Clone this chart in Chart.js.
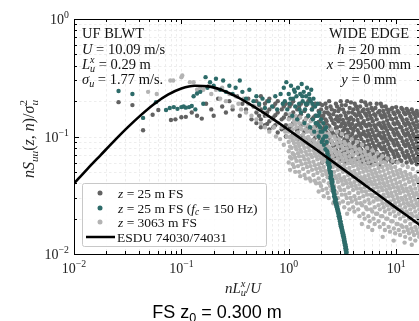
<!DOCTYPE html>
<html><head><meta charset="utf-8">
<script src="https://cdn.jsdelivr.net/npm/chart.js@4/dist/chart.umd.min.js"></script>
<style>
html,body{margin:0;padding:0;overflow:hidden;background:#fff;width:419px;height:321px}
#wrap{position:absolute;left:0;top:0;width:440px;height:321px}
</style></head><body><div id="wrap"><canvas id="c" width="440" height="321"></canvas></div>
<script>
// ---------- DATA ----------
const esduX = [0.01,0.0133,0.0178,0.0237,0.0316,0.0422,0.0562,0.075,0.1,0.133,0.178,0.237,0.316,0.422,0.562,0.75,1,1.33,1.78,2.37,3.16,4.22,5.62,7.5,10,13.3,17.8];
const esduY = [0.0398,0.0528,0.0698,0.0918,0.1195,0.1528,0.1901,0.2269,0.2561,0.2705,0.2671,0.2489,0.2218,0.1917,0.1626,0.1364,0.1136,0.0942,0.0780,0.0645,0.0533,0.0440,0.0363,0.0300,0.0247,0.0205,0.0169];

// z = 25 m FS (dark grey): sparse points + dense columns [x, [y...]]
const darkSparse = [[0.026,0.196],[0.035,0.185],[0.044,0.113],[0.054,0.153],[0.061,0.168],[0.08,0.138],[0.088,0.14],[0.1,0.146],[0.11,0.147],[0.125,0.16],[0.14,0.15],[0.155,0.142],[0.17,0.19],[0.19,0.17],[0.2,0.15],[0.22,0.21],[0.24,0.18],[0.26,0.16],[0.28,0.2],[0.3,0.17],[0.33,0.22],[0.35,0.15],[0.37,0.19],[0.4,0.17],[0.42,0.21],[0.45,0.14],[0.47,0.18]];
const darkCols = [
 [0.5,[0.2,0.16,0.13]],[0.55,[0.22,0.17,0.14,0.12]],[0.6,[0.19,0.15,0.125]],[0.66,[0.21,0.17,0.135,0.115]],
 [0.72,[0.18,0.145,0.12]],[0.79,[0.2,0.16,0.13,0.108]],[0.86,[0.17,0.14,0.115]],[0.94,[0.19,0.155,0.125,0.1]],
 [1.02,[0.18,0.145,0.118]],[1.1,[0.2,0.16,0.13,0.105]],[1.2,[0.17,0.14,0.112,0.095]],[1.3,[0.19,0.155,0.125,0.1]],
 [1.4,[0.165,0.135,0.11,0.09]],[1.52,[0.2,0.15,0.12,0.097]],[1.64,[0.17,0.14,0.113,0.09]],[1.77,[0.19,0.15,0.122,0.098,0.08]],
 [1.9,[0.165,0.133,0.108,0.088]],
 [2.0,[0.17,0.13,0.1,0.085,0.072]],[2.1,[0.15,0.12,0.095,0.078]],[2.2,[0.19,0.14,0.11,0.088,0.066]],[2.3,[0.16,0.125,0.1,0.08]],
 [2.45,[0.18,0.145,0.115,0.092,0.07]],[2.6,[0.155,0.13,0.105,0.083,0.064]],[2.75,[0.19,0.14,0.118,0.097,0.077]],[2.9,[0.165,0.135,0.11,0.088,0.068]],
 [3.05,[0.2,0.15,0.122,0.1,0.08,0.062]],[3.2,[0.17,0.138,0.112,0.09,0.072]],[3.4,[0.185,0.15,0.125,0.103,0.084,0.066]],[3.6,[0.16,0.132,0.108,0.088,0.07]],
 [3.8,[0.195,0.145,0.118,0.097,0.078,0.06]],[4.0,[0.17,0.138,0.112,0.09,0.073]],[4.25,[0.18,0.15,0.125,0.1,0.082,0.064]],[4.5,[0.16,0.13,0.107,0.087,0.07]],
 [4.75,[0.2,0.145,0.118,0.095,0.077,0.06]],[5.0,[0.17,0.135,0.11,0.09,0.072]],[5.3,[0.185,0.15,0.122,0.1,0.08,0.063]],[5.6,[0.16,0.128,0.105,0.085,0.068]],
 [5.9,[0.175,0.142,0.115,0.094,0.076,0.058]],[6.25,[0.155,0.125,0.102,0.083,0.066]],[6.6,[0.19,0.14,0.113,0.092,0.074]],[7.0,[0.165,0.13,0.107,0.087,0.07,0.057]],
 [7.4,[0.18,0.145,0.118,0.096,0.078]],[7.8,[0.155,0.125,0.101,0.082,0.065]],[8.25,[0.17,0.137,0.112,0.091,0.073]],[8.7,[0.15,0.122,0.099,0.08,0.064]],
 [9.2,[0.175,0.14,0.115,0.093,0.075,0.06]],[9.7,[0.155,0.127,0.103,0.084,0.067]],[10.3,[0.165,0.133,0.108,0.088,0.071]],[10.9,[0.15,0.12,0.098,0.079,0.063]],
 [11.5,[0.17,0.138,0.112,0.091,0.073]],[12.2,[0.155,0.125,0.102,0.083,0.066]],[12.9,[0.165,0.132,0.107,0.087,0.07]],[13.6,[0.148,0.12,0.097,0.079,0.063]],
 [14.4,[0.16,0.13,0.105,0.086,0.069]],[15.2,[0.145,0.117,0.095,0.077,0.062]],[16.0,[0.155,0.125,0.101,0.082,0.066]]
];
const darkCols2 = [
 [0.53,[0.185,0.15]],[0.63,[0.2,0.16,0.128]],[0.75,[0.19,0.152,0.125]],[0.9,[0.18,0.145,0.118]],[1.06,[0.19,0.152,0.124,0.1]],
 [1.25,[0.18,0.148,0.118]],[1.46,[0.185,0.143,0.115,0.093]],[1.7,[0.18,0.145,0.118,0.094]],[1.95,[0.19,0.152,0.12,0.095,0.078]],
 [2.05,[0.185,0.145,0.115,0.092,0.075,0.06]],[2.15,[0.16,0.128,0.104,0.083,0.068]],[2.25,[0.175,0.135,0.108,0.087,0.07]],
 [2.38,[0.2,0.155,0.122,0.098,0.078,0.063]],[2.52,[0.17,0.138,0.11,0.089,0.072]],[2.68,[0.165,0.128,0.103,0.085,0.068,0.058]],
 [2.82,[0.18,0.148,0.12,0.094,0.074]],[2.97,[0.172,0.14,0.105,0.084,0.071]],[3.12,[0.185,0.128,0.106,0.086,0.068]],
 [3.3,[0.16,0.13,0.118,0.095,0.077,0.061]],[3.5,[0.2,0.142,0.114,0.093,0.076,0.06]],[3.7,[0.175,0.14,0.125,0.1,0.082,0.065]],
 [3.9,[0.16,0.128,0.105,0.085,0.067]],[4.12,[0.19,0.155,0.12,0.097,0.078,0.061]],[4.37,[0.17,0.138,0.113,0.092,0.074]],
 [4.62,[0.18,0.152,0.124,0.101,0.082,0.065]],[4.87,[0.165,0.13,0.105,0.085,0.068]],[5.15,[0.195,0.157,0.126,0.103,0.083,0.066]],
 [5.45,[0.17,0.14,0.112,0.092,0.074,0.059]],[5.75,[0.19,0.15,0.124,0.1,0.08,0.064]],[6.07,[0.168,0.135,0.109,0.088,0.071]],
 [6.42,[0.175,0.15,0.12,0.097,0.079,0.062]],[6.8,[0.16,0.127,0.103,0.084,0.067]],[7.2,[0.19,0.152,0.123,0.1,0.081,0.063]],
 [7.6,[0.165,0.132,0.108,0.089,0.071]],[8.0,[0.18,0.147,0.118,0.095,0.077,0.061]],[8.47,[0.16,0.128,0.105,0.086,0.069]],
 [8.95,[0.17,0.142,0.117,0.095,0.077,0.062]],[9.45,[0.16,0.13,0.108,0.088,0.071]],[10.0,[0.178,0.143,0.116,0.094,0.076,0.061]],
 [10.6,[0.16,0.128,0.103,0.084,0.068]],[11.2,[0.175,0.145,0.12,0.097,0.078,0.062]],[11.85,[0.16,0.13,0.106,0.086,0.069]],
 [12.55,[0.172,0.14,0.115,0.093,0.075,0.06]],[13.25,[0.157,0.127,0.102,0.083,0.067]],[14.0,[0.17,0.14,0.113,0.092,0.074,0.06]],
 [14.8,[0.155,0.125,0.1,0.081,0.065]],[15.6,[0.165,0.135,0.11,0.089,0.072,0.058]],[16.4,[0.15,0.12,0.097,0.078,0.063]]
];

// z = 25 m FS (fc = 150 Hz) (teal)
const tealPts = [[0.026,0.244],[0.035,0.23],[0.044,0.144],[0.058,0.196],[0.072,0.168],[0.078,0.175],[0.085,0.178],[0.092,0.172],[0.1,0.178],[0.105,0.18],[0.11,0.176],[0.118,0.178],[0.125,0.182],[0.13,0.22],[0.14,0.232],[0.135,0.17],[0.15,0.24],[0.16,0.19],[0.168,0.32],[0.175,0.26],[0.185,0.29],[0.2,0.27],[0.21,0.31],[0.23,0.25],[0.245,0.3],[0.26,0.24],[0.28,0.27],[0.3,0.23],[0.32,0.26],[0.35,0.3],[0.37,0.24],[0.4,0.21],[0.43,0.25],[0.47,0.2],[0.5,0.22],[0.53,0.19],[0.57,0.21],[0.6,0.175],[0.65,0.2],[0.7,0.18],[0.75,0.22],[0.78,0.17],
 [0.9,0.26],[0.92,0.2],[0.95,0.29],[0.97,0.17],[1.0,0.23],[1.02,0.19],[1.05,0.27],[1.08,0.15],[1.1,0.21],[1.12,0.25],[1.15,0.18],[1.18,0.22],[1.2,0.14],[1.22,0.26],[1.25,0.19],[1.28,0.23],[1.3,0.16],[1.32,0.28],[1.35,0.2],[1.38,0.24],[1.4,0.13],[1.42,0.17],[1.45,0.22],[1.48,0.26],[1.5,0.19],[1.52,0.15],[1.55,0.23],[1.58,0.12],[1.6,0.2],[1.62,0.25],[1.65,0.17],[1.68,0.14],[1.7,0.21],[1.73,0.11],[1.76,0.18],[1.8,0.15],[1.83,0.13],[1.86,0.19],[1.9,0.1],[1.93,0.16],[1.96,0.12],[2.0,0.14],[2.03,0.09],[2.06,0.11],[2.1,0.13],[2.13,0.085],[2.16,0.1],[2.2,0.078],[2.23,0.12],[2.26,0.09],[2.3,0.072],
 [1.04,0.21],[1.14,0.24],[1.26,0.17],[1.34,0.22],[1.44,0.19],[1.56,0.21],[1.66,0.19],[1.78,0.13],[1.88,0.15],[1.98,0.11],[2.08,0.095],[2.18,0.115],[0.84,0.23],[0.88,0.19],[1.9,0.125],[2.24,0.1],
 [2.3,0.068],[2.33,0.064],[2.31,0.06],[2.36,0.057],[2.38,0.054],[2.4,0.051],[2.43,0.049],[2.46,0.046],[2.45,0.044],[2.5,0.042],[2.52,0.04],[2.55,0.038],[2.58,0.036],[2.6,0.034],[2.63,0.033],[2.65,0.031],[2.68,0.03],[2.7,0.028],[2.74,0.027],[2.77,0.026],[2.8,0.025],[2.83,0.024],[2.86,0.023],[2.9,0.022],[2.92,0.021],[2.96,0.02],[3.0,0.019],[3.02,0.018],[3.06,0.0172],[3.1,0.0165],[3.13,0.0158],[3.17,0.015],[3.2,0.0143],[3.24,0.0137],[3.27,0.013],[3.3,0.0124],[3.34,0.0118],[3.37,0.0112],[3.4,0.0107],[3.43,0.0102],
 [2.28,0.075],[2.35,0.066],[2.39,0.059],[2.42,0.055],[2.47,0.05],[2.49,0.047],[2.53,0.043],[2.56,0.041],[2.6,0.037],[2.64,0.035],[2.67,0.032],[2.72,0.03],[2.75,0.029],[2.78,0.027],[2.82,0.0255],[2.85,0.0245],[2.89,0.0232],[2.93,0.0222],[2.97,0.021],[3.0,0.02],[3.05,0.0188],[3.08,0.0178],[3.12,0.017],[3.16,0.016],[3.19,0.0153],[3.23,0.0147],[3.27,0.014],[3.3,0.0134],[3.33,0.0127],[3.37,0.0121],[3.41,0.0115],[3.44,0.011],[3.46,0.0104]];

// z = 3063 m FS (light grey)
const lightSparse = [[0.049,0.24],[0.059,0.23],[0.079,0.3],[0.084,0.3],[0.1,0.32],[0.102,0.33],[0.12,0.29],[0.13,0.29],[0.14,0.25],[0.15,0.26],[0.16,0.25],[0.18,0.27],[0.19,0.23],[0.21,0.25],[0.23,0.21],[0.24,0.26],[0.26,0.2],[0.28,0.23],[0.3,0.18],[0.32,0.22],[0.34,0.19],[0.36,0.17],[0.38,0.21],[0.4,0.16],[0.42,0.19],[0.45,0.15],[0.48,0.18],[0.5,0.14],[0.52,0.17],[0.55,0.13],[0.58,0.16],[0.6,0.12],[0.63,0.15],[0.66,0.11],[0.7,0.14],[0.73,0.12],[0.76,0.1],[0.8,0.13],[0.83,0.095],[0.86,0.12],[0.9,0.085],[0.93,0.11],[0.96,0.1],
 [3.5,0.022],[4.8,0.018],[6,0.016],[7.5,0.014],[9.5,0.013],[12,0.0125],[14,0.012],[2.6,0.027],[5.5,0.017]];
const lightCols = [
 [1.0,[0.14,0.11,0.09,0.075,0.06]],[1.06,[0.125,0.1,0.08,0.065]],[1.12,[0.135,0.105,0.088,0.07,0.055]],[1.18,[0.12,0.095,0.078,0.062]],
 [1.25,[0.13,0.1,0.083,0.068,0.05]],[1.32,[0.115,0.09,0.074,0.058]],[1.4,[0.125,0.097,0.08,0.064,0.047]],[1.48,[0.11,0.087,0.07,0.055]],
 [1.56,[0.12,0.093,0.076,0.06,0.044]],[1.65,[0.105,0.083,0.067,0.052]],[1.75,[0.115,0.088,0.072,0.057,0.042]],[1.85,[0.1,0.08,0.064,0.049]],
 [1.95,[0.11,0.085,0.069,0.054,0.04]],[2.06,[0.095,0.076,0.061,0.047,0.035]],[2.18,[0.105,0.081,0.065,0.051]],[2.3,[0.09,0.072,0.058,0.045,0.033]],
 [2.43,[0.1,0.078,0.062,0.049,0.038]],[2.57,[0.086,0.068,0.055,0.043]],[2.72,[0.095,0.074,0.059,0.046,0.034]],[2.87,[0.082,0.065,0.052,0.041,0.03]],
 [3.03,[0.09,0.07,0.056,0.044,0.035]],[3.2,[0.078,0.062,0.05,0.039,0.028]],[3.38,[0.086,0.067,0.053,0.042,0.032]],[3.57,[0.074,0.059,0.047,0.037,0.027]],
 [3.77,[0.082,0.063,0.05,0.04,0.03]],[3.98,[0.07,0.056,0.045,0.035,0.025]],[4.2,[0.078,0.06,0.048,0.038,0.029]],[4.44,[0.066,0.053,0.042,0.033,0.024]],
 [4.69,[0.074,0.057,0.045,0.036,0.027]],[4.95,[0.063,0.05,0.04,0.031,0.022]],[5.23,[0.07,0.054,0.043,0.034,0.025]],[5.52,[0.06,0.047,0.038,0.029,0.021]],
 [5.83,[0.066,0.051,0.041,0.032,0.024]],[6.16,[0.057,0.045,0.036,0.028,0.02]],[6.5,[0.063,0.049,0.039,0.03,0.022]],[6.87,[0.054,0.043,0.034,0.026,0.019]],
 [7.25,[0.06,0.046,0.037,0.029,0.021]],[7.66,[0.051,0.04,0.032,0.025,0.018]],[8.09,[0.057,0.044,0.035,0.027,0.02]],[8.54,[0.049,0.038,0.031,0.024,0.017]],
 [9.02,[0.054,0.042,0.033,0.026,0.019]],[9.53,[0.047,0.037,0.029,0.023,0.0165]],[10.1,[0.051,0.04,0.032,0.025,0.018]],[10.6,[0.045,0.035,0.028,0.022,0.016]],
 [11.2,[0.049,0.038,0.03,0.024,0.0175]],[11.8,[0.043,0.034,0.027,0.021,0.0155]],[12.5,[0.047,0.036,0.029,0.023,0.017]],[13.2,[0.041,0.032,0.026,0.02,0.015]],
 [13.9,[0.045,0.035,0.028,0.022,0.0165]],[14.7,[0.039,0.031,0.025,0.019,0.0145]],[15.5,[0.043,0.033,0.027,0.021,0.016]],[16.4,[0.038,0.03,0.024,0.019,0.014]]
];
const lightCols2 = [
 [1.03,[0.155,0.125,0.098,0.082,0.067,0.052]],[1.09,[0.145,0.115,0.093,0.072,0.058]],[1.15,[0.15,0.128,0.1,0.082,0.066,0.05]],
 [1.22,[0.138,0.108,0.088,0.072,0.056]],[1.28,[0.145,0.12,0.095,0.077,0.062,0.046]],[1.36,[0.13,0.104,0.085,0.068,0.053]],
 [1.44,[0.14,0.115,0.092,0.074,0.059,0.044]],[1.52,[0.125,0.099,0.081,0.064,0.05]],[1.6,[0.135,0.11,0.087,0.07,0.056,0.042]],
 [1.7,[0.12,0.093,0.076,0.061,0.047]],[1.8,[0.13,0.106,0.084,0.068,0.053,0.04]],[1.9,[0.115,0.09,0.073,0.058,0.044,0.034]],
 [2.0,[0.125,0.102,0.08,0.065,0.051,0.038]],[2.12,[0.11,0.086,0.07,0.055,0.042,0.031]],[2.24,[0.12,0.097,0.077,0.062,0.048,0.036]],
 [2.36,[0.105,0.082,0.066,0.052,0.04,0.03]],[2.5,[0.115,0.092,0.073,0.058,0.046,0.035]],[2.65,[0.1,0.078,0.063,0.05,0.038,0.028]],
 [2.8,[0.11,0.088,0.07,0.056,0.044,0.033]],[2.95,[0.095,0.074,0.06,0.047,0.037,0.027]],[3.12,[0.105,0.083,0.066,0.053,0.042,0.032]],
 [3.29,[0.09,0.071,0.057,0.045,0.035,0.025]],[3.47,[0.1,0.079,0.063,0.05,0.04,0.03]],[3.67,[0.086,0.068,0.054,0.043,0.033,0.024]],
 [3.87,[0.095,0.075,0.06,0.048,0.038,0.028]],[4.09,[0.082,0.064,0.051,0.041,0.031,0.023]],[4.32,[0.09,0.072,0.057,0.046,0.036,0.027]],
 [4.56,[0.078,0.061,0.049,0.039,0.03,0.021]],[4.82,[0.085,0.068,0.054,0.043,0.034,0.026]],[5.09,[0.074,0.058,0.046,0.037,0.028,0.02]],
 [5.37,[0.08,0.065,0.051,0.041,0.032,0.024]],[5.67,[0.07,0.055,0.044,0.035,0.027,0.019]],[6.0,[0.076,0.062,0.048,0.039,0.031,0.023]],
 [6.33,[0.067,0.052,0.042,0.033,0.025,0.018]],[6.68,[0.072,0.058,0.046,0.037,0.029,0.022]],[7.06,[0.064,0.05,0.04,0.031,0.024,0.017]],
 [7.45,[0.068,0.055,0.043,0.035,0.027,0.021]],[7.87,[0.06,0.047,0.038,0.03,0.023,0.016]],[8.31,[0.065,0.053,0.041,0.033,0.026,0.02]],
 [8.78,[0.057,0.045,0.036,0.028,0.022,0.0155]],[9.27,[0.062,0.05,0.039,0.031,0.025,0.019]],[9.8,[0.055,0.043,0.034,0.027,0.021,0.015]],
 [10.35,[0.06,0.048,0.037,0.03,0.024,0.018]],[10.9,[0.052,0.041,0.033,0.026,0.02,0.0145]],[11.5,[0.057,0.046,0.036,0.029,0.023,0.017]],
 [12.15,[0.05,0.039,0.031,0.025,0.019,0.014]],[12.85,[0.055,0.044,0.034,0.027,0.022,0.016]],[13.55,[0.048,0.037,0.03,0.024,0.018,0.0135]],
 [14.3,[0.053,0.042,0.033,0.026,0.021,0.0155]],[15.1,[0.046,0.036,0.029,0.023,0.017,0.013]],[15.95,[0.05,0.041,0.032,0.026,0.02,0.015]],
 [16.6,[0.044,0.035,0.028,0.022,0.017]]
];

const seriesLabels = ['z = 25 m FS','z = 25 m FS (fc = 150 Hz)','z = 3063 m FS','ESDU 74030/74031'];
const xTickValues = [0.01,0.1,1,10];
const xTickExp = ['\u22122','\u22121','0','1'];
const yTickValues = [1,0.1,0.01];
const yTickExp = ['0','\u22121','\u22122'];

// ---------- BUILD ----------
const toPts = (xs, ys) => xs.map((x,i)=>({x, y: ys[i]}));
const pairs = arr => arr.map(p=>({x:p[0], y:p[1]}));
const cols = arr => arr.flatMap(c=>c[1].map(y=>({x:c[0], y})));

const C_DARK='#626262', C_TEAL='#2d6b69', C_LIGHT='#b3b3b3';
const SERIF='"Liberation Serif", "DejaVu Serif", serif';

function drawRich(ctx, parts, x, y, align, size, fam){
  fam = fam || SERIF;
  const segs=[]; let cx=0, prevStart=0;
  for(const p of parts){
    const t=p[0], f=p[1]||'';
    const it=f.includes('i'), sub=f.includes('sub'), sup=f.includes('sup'), stack=f.includes('stack');
    const fs=(sub||sup)? size*0.7 : size;
    const font=(it?'italic ':'')+fs+'px '+fam;
    ctx.font=font;
    const w=ctx.measureText(t).width;
    const sx= stack? prevStart : cx;
    const dy= sub? size*0.22 : (sup? -size*0.42 : 0);
    segs.push({t,font,sx,dy});
    if(stack){ cx=Math.max(cx,sx+w);} else {prevStart=sx; cx=sx+w;}
  }
  const ox = align==='center'? x-cx/2 : (align==='right'? x-cx : x);
  ctx.textAlign='left'; ctx.textBaseline='alphabetic';
  for(const s of segs){ ctx.font=s.font; ctx.fillText(s.t, ox+s.sx, y+s.dy); }
  return cx;
}

function minorVals(min,max){
  const out=[];
  for(let e=-3;e<=2;e++){ for(let m=1;m<=9;m++){ const v=m*Math.pow(10,e); if(v>=min*0.999 && v<=max*1.001) out.push({v, major:m===1}); } }
  return out;
}

const decor = {
  id:'decor',
  beforeDatasetsDraw(chart){
    const {ctx, chartArea:a, scales:{x,y}} = chart;
    ctx.save();
    ctx.strokeStyle='#e8e8e8'; ctx.lineWidth=0.8; ctx.setLineDash([2.5,2.5]);
    for(const t of minorVals(x.min,x.max)){ const px=Math.round(x.getPixelForValue(t.v))+0.5; ctx.beginPath(); ctx.moveTo(px,a.top); ctx.lineTo(px,a.bottom); ctx.stroke(); }
    for(const t of minorVals(y.min,y.max)){ const py=Math.round(y.getPixelForValue(t.v))+0.5; ctx.beginPath(); ctx.moveTo(a.left,py); ctx.lineTo(a.right,py); ctx.stroke(); }
    ctx.restore();
  },
  afterDatasetsDraw(chart){
    const {ctx, chartArea:a, scales:{x,y}} = chart;
    ctx.save();
    ctx.strokeStyle='#000'; ctx.lineWidth=1; ctx.setLineDash([]);
    ctx.strokeRect(Math.round(a.left)+0.5, Math.round(a.top)+0.5, Math.round(a.right-a.left), Math.round(a.bottom-a.top));
    for(const t of minorVals(x.min,x.max)){
      const px=Math.round(x.getPixelForValue(t.v))+0.5, L=t.major?5:3;
      ctx.beginPath(); ctx.moveTo(px,a.bottom); ctx.lineTo(px,a.bottom-L); ctx.moveTo(px,a.top); ctx.lineTo(px,a.top+L); ctx.stroke();
    }
    for(const t of minorVals(y.min,y.max)){
      const py=Math.round(y.getPixelForValue(t.v))+0.5, L=t.major?5:3;
      ctx.beginPath(); ctx.moveTo(a.left,py); ctx.lineTo(a.left+L,py); ctx.moveTo(a.right,py); ctx.lineTo(a.right-L,py); ctx.stroke();
    }
    ctx.fillStyle='#222';
    xTickValues.forEach((v,i)=>{ drawRich(ctx,[['10'],[xTickExp[i],'sup']], x.getPixelForValue(v), a.bottom+19, 'center', 14); });
    yTickValues.forEach((v,i)=>{ drawRich(ctx,[['10'],[yTickExp[i],'sup']], a.left-5, y.getPixelForValue(v)+5, 'right', 14); });
    drawRich(ctx,[['n','i'],['L','i'],['u','i sub'],['x','i sup stack'],['/'],['U','i']], 243, 293, 'center', 15);
    ctx.save(); ctx.translate(34,139); ctx.rotate(-Math.PI/2);
    drawRich(ctx,[['n','i'],['S','i'],['uu','i sub'],['('],['z','i'],[', '],['n','i'],[')/'],['\u03c3','i'],['u','i sub'],['2','sup stack']], 0, 0, 'center', 16);
    ctx.restore();
    ctx.fillStyle='#111';
    const L0=82;
    drawRich(ctx,[['UF BLWT']], L0, 38, 'left', 14.5);
    drawRich(ctx,[['U','i'],[' = 10.09 m/s']], L0, 54, 'left', 14.5);
    drawRich(ctx,[['L','i'],['u','i sub'],['x','i sup stack'],[' = 0.29 m']], L0, 69, 'left', 14.5);
    drawRich(ctx,[['\u03c3','i'],['u','i sub'],[' = 1.77 m/s.']], L0, 84, 'left', 14.5);
    const R0=369;
    drawRich(ctx,[['WIDE EDGE']], R0, 38, 'center', 14.5);
    drawRich(ctx,[['h','i'],[' = 20 mm']], R0, 54, 'center', 14.5);
    drawRich(ctx,[['x','i'],[' = 29500 mm']], R0, 69, 'center', 14.5);
    drawRich(ctx,[['y','i'],[' = 0 mm']], R0, 84, 'center', 14.5);
    const lx=82.5, ly=183.5, lw=184, lh=63;
    ctx.fillStyle='rgba(255,255,255,0.85)'; ctx.strokeStyle='#c8c8c8'; ctx.lineWidth=1;
    ctx.beginPath(); ctx.roundRect(lx,ly,lw,lh,2); ctx.fill(); ctx.stroke();
    const rows=[193,208,222,237];
    const cols3=[C_DARK,C_TEAL,C_LIGHT];
    for(let i=0;i<3;i++){ ctx.fillStyle=cols3[i]; ctx.beginPath(); ctx.arc(100,rows[i],2.5,0,Math.PI*2); ctx.fill(); }
    ctx.strokeStyle='#000'; ctx.lineWidth=2.5; ctx.beginPath(); ctx.moveTo(86,rows[3]); ctx.lineTo(115,rows[3]); ctx.stroke();
    ctx.fillStyle='#111';
    drawRich(ctx,[['z','i'],[' = 25 m FS']], 118, rows[0]+4.5, 'left', 13.5);
    drawRich(ctx,[['z','i'],[' = 25 m FS ('],['f','i'],['c','i sub'],[' = 150 Hz)']], 118, rows[1]+4.5, 'left', 13.5);
    drawRich(ctx,[['z','i'],[' = 3063 m FS']], 118, rows[2]+4.5, 'left', 13.5);
    drawRich(ctx,[[seriesLabels[3]]], 117, rows[3]+4.5, 'left', 13.5);
    ctx.fillStyle='#000';
    drawRich(ctx,[['FS z'],['0','sub'],[' = 0.300 m']], 217, 318, 'center', 18, '"Liberation Sans", Arial, sans-serif');
    ctx.restore();
  }
};

new Chart(document.getElementById('c'), {
  type:'scatter',
  data:{ datasets:[
    {label:seriesLabels[3], type:'line', data:toPts(esduX,esduY), borderColor:'#000', borderWidth:2.6, pointRadius:0, showLine:true, cubicInterpolationMode:'monotone', fill:false, order:0},
    {label:seriesLabels[1], data:pairs(tealPts), backgroundColor:C_TEAL, borderWidth:0, pointRadius:2.2, order:1},
    {label:seriesLabels[2], data:pairs(lightSparse).concat(cols(lightCols), cols(lightCols2)), backgroundColor:C_LIGHT, borderWidth:0, pointRadius:2.2, order:2},
    {label:seriesLabels[0], data:pairs(darkSparse).concat(cols(darkCols), cols(darkCols2)), backgroundColor:C_DARK, borderWidth:0, pointRadius:2.2, order:3}
  ]},
  options:{
    responsive:false, animation:false, events:[],
    layout:{padding:{left:74, top:19, right:20, bottom:67}},
    plugins:{legend:{display:false}, tooltip:{enabled:false}},
    scales:{
      x:{type:'logarithmic', min:0.01, max:16.7, display:false},
      y:{type:'logarithmic', min:0.01, max:1, display:false}
    }
  },
  plugins:[decor]
});
</script></body></html>
